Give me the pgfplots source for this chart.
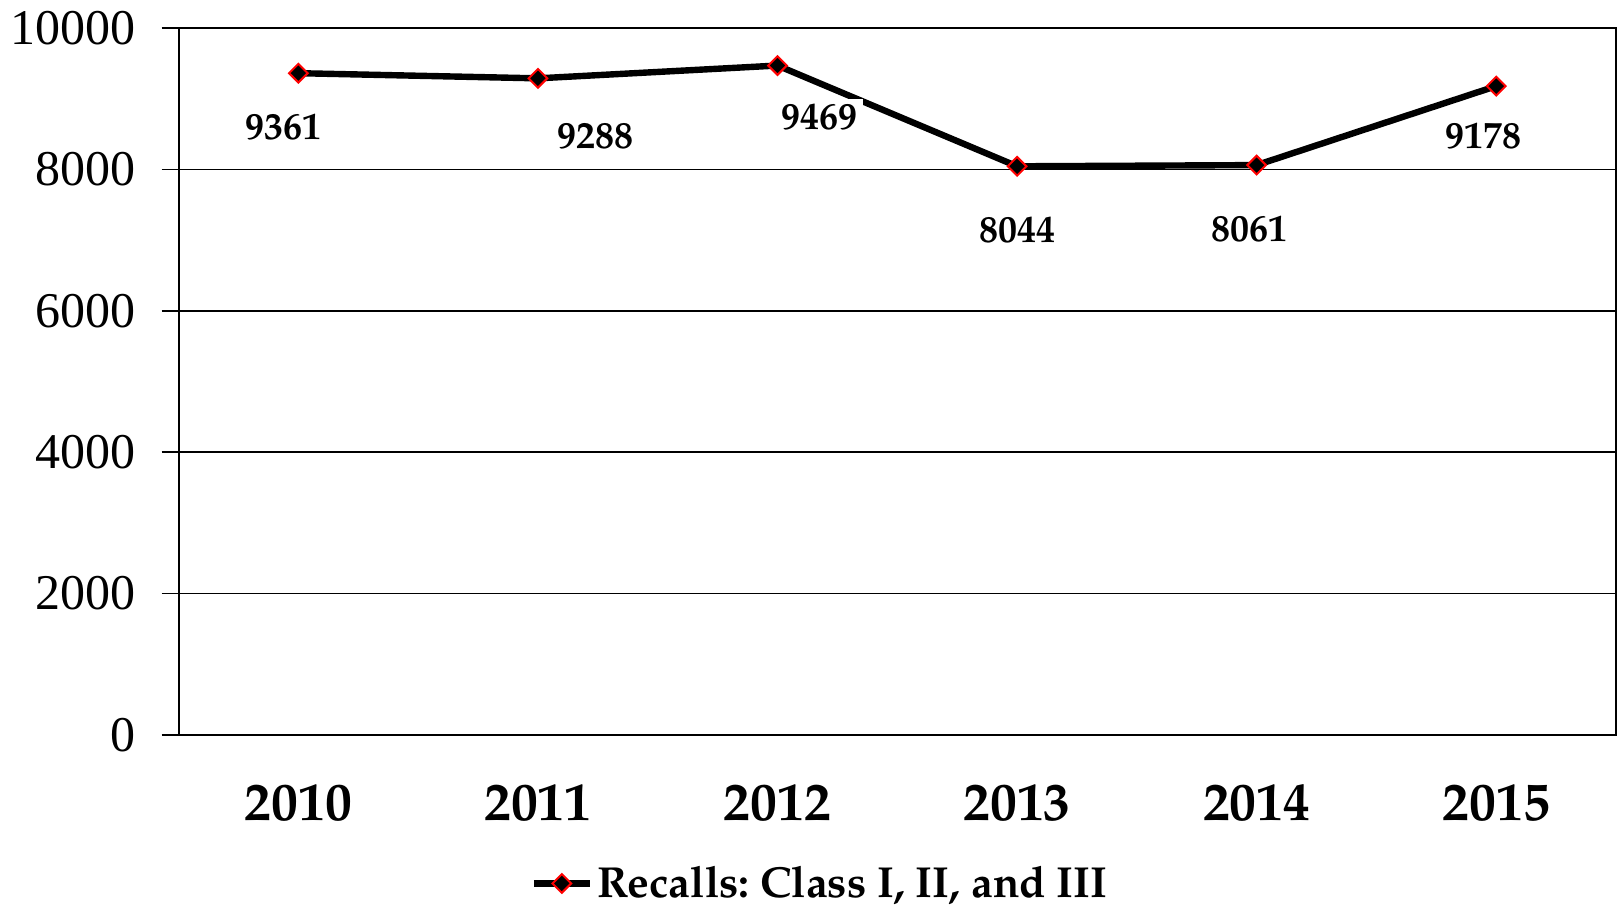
\documentclass[border=0pt]{standalone}
\usepackage{fontspec}
\setmainfont{Liberation Serif}
\usepackage{pgfplots}
\usepackage{pgfplotstable}
\pgfplotsset{compat=1.18}
% bold Palatino-like face for labels
\IfFontExistsTF{TeX Gyre Pagella}
  {\newfontfamily\palafam{TeX Gyre Pagella}}
  {\newfontfamily\palafam{Liberation Serif}}
\newcommand{\pala}{\palafam\bfseries}

\pgfplotstableread{
x y dx dy
0 9361 -7.2 -26.8
1 9288 28.9 -28.9
2 9469 21.2 -25.8
3 8044 0 -32
4 8061 -3.6 -32
5 9178 -6.2 -24.8
}\recalls

\begin{document}
\frenchspacing
\begin{tikzpicture}
\useasboundingbox (-89.3pt,-86pt) rectangle (720.2pt,367.5pt);
\begin{axis}[
  at={(0,0)}, anchor=south west,
  scale only axis, width=718.7pt, height=353.5pt,
  xmin=-0.5, xmax=5.5, ymin=0, ymax=10000,
  axis line style={line width=1pt},
  clip=false,
  tick align=outside,
  xtick pos=bottom, ytick pos=left,
  major tick length=8.5pt, minor tick length=8.5pt,
  xtick={0,...,5},
  xticklabels={2010,2011,2012,2013,2014,2015},
  xtick style={draw=none},
  minor xtick={-0.5,0.5,...,5.5},
  minor x tick style={black, line width=0.75pt},
  ytick={0,2000,...,10000},
  y tick style={black, line width=0.75pt},
  scaled y ticks=false,
  ymajorgrids,
  grid style={black, line width=0.75pt},
  /pgf/number format/assume math mode=true,
  /pgf/number format/1000 sep={},
  yticklabel style={font=\fontsize{25}{30}\selectfont, xshift=-9.5pt},
  xticklabel style={font=\fontsize{26.8}{31}\selectfont\pala, yshift=-12.7pt},
  legend style={at={(0.447,-0.21)}, anchor=center, draw=none, fill=none,
    font=\fontsize{21.7}{26}\selectfont\pala},
  legend image code/.code={
    \draw[mark repeat=2,mark phase=2] plot coordinates {(0pt,0pt) (14pt,0pt) (28pt,0pt)};
  },
]
\addplot[black, line width=3.2pt,
  mark=square*, mark size=3.3pt,
  mark options={rotate=45, fill=black, draw=red, line width=1pt},
  nodes near coords, point meta=explicit symbolic,
  visualization depends on={\thisrow{dx} \as \dx},
  visualization depends on={\thisrow{dy} \as \dy},
  nodes near coords style={anchor=center, xshift=\dx pt, yshift=\dy pt,
    fill=white, inner sep=2.5pt, text=black, font=\fontsize{19}{22}\selectfont\pala},
] table[x=x, y=y, meta=y] {\recalls};
\addlegendentry{Recalls: Class I, II, and III}
\end{axis}
\end{tikzpicture}
\end{document}
